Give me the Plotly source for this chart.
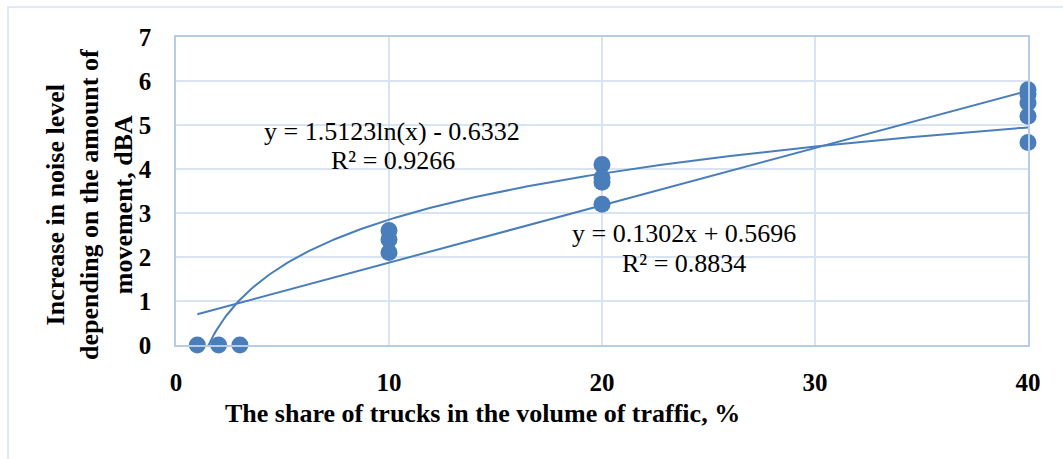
import numpy as np
import plotly.graph_objects as go

# Measured noise increase vs. share of trucks
truck_share = [1, 2, 3, 10, 10, 10, 20, 20, 20, 20, 40, 40, 40, 40, 40]
noise_increase = [0, 0, 0, 2.6, 2.4, 2.1, 4.1, 3.8, 3.7, 3.2, 5.8, 5.7, 5.5, 5.2, 4.6]

# Trendline coefficients
log_a, log_b = 1.5123, -0.6332
lin_k, lin_b = 0.1302, 0.5696

x_ticks = [0, 10, 20, 30, 40]
y_ticks = [0, 1, 2, 3, 4, 5, 6, 7]

blue = "#4a7ebb"
grid = "#d9e4f3"
border = "#b8cce8"
serif = "Liberation Serif, Times New Roman, serif"

fig = go.Figure()

xs = np.linspace(min(truck_share), max(truck_share), 400)
fig.add_trace(go.Scatter(x=xs, y=log_a * np.log(xs) + log_b, mode="lines",
                         line=dict(color=blue, width=2), cliponaxis=True,
                         hoverinfo="skip"))
xl = np.array([min(truck_share), max(truck_share)])
fig.add_trace(go.Scatter(x=xl, y=lin_k * xl + lin_b, mode="lines",
                         line=dict(color=blue, width=2), cliponaxis=True,
                         hoverinfo="skip"))
fig.add_trace(go.Scatter(x=truck_share, y=noise_increase, mode="markers",
                         marker=dict(color=blue, size=17), cliponaxis=False))

axis_common = dict(showgrid=True, gridcolor=grid, gridwidth=1.5, zeroline=False,
                   showline=True, linecolor=border, linewidth=1.5, mirror=True,
                   ticks="", tickfont=dict(family=serif, size=25, color="black",
                                           weight="bold"))
fig.update_xaxes(range=[0, 40], tickvals=x_ticks, ticklabelstandoff=14, **axis_common)
fig.update_yaxes(range=[0, 7], tickvals=y_ticks, ticklabelstandoff=18, **axis_common)

annos = [
    dict(x=392, y=131, text="y = 1.5123ln(x) - 0.6332"),
    dict(x=393, y=160, text="R² = 0.9266"),
    dict(x=684, y=233, text="y = 0.1302x + 0.5696"),
    dict(x=684, y=263, text="R² = 0.8834"),
]
L, R, T, B, W, H = 176, 35, 37, 114, 1063, 459
pw, ph = W - L - R, H - T - B


def px(x):
    return (x - L) / pw


def py(y):
    return (H - B - y) / ph


for a in annos:
    fig.add_annotation(x=px(a["x"]), y=py(a["y"]), xref="paper", yref="paper",
                       xanchor="center", yanchor="middle",
                       text=a["text"], showarrow=False,
                       font=dict(family=serif, size=26, color="black"))

fig.add_annotation(x=px(482), y=py(413), xref="paper", yref="paper",
                   xanchor="center", yanchor="middle",
                   text="<b>The share of trucks in the volume of traffic, %</b>",
                   showarrow=False, font=dict(family=serif, size=26, color="black"))
fig.add_annotation(x=px(89), y=py(205), xref="paper", yref="paper", textangle=-90,
                   xanchor="center", yanchor="middle",
                   text="<b>Increase in noise level<br>depending on the amount of<br>movement, dBA</b>",
                   showarrow=False,
                   font=dict(family=serif, size=26, color="black"))

# Outer chart frame
fig.add_shape(type="rect", xref="paper", yref="paper",
              x0=px(8), x1=px(1070), y0=py(470), y1=py(7),
              line=dict(color="#d6e2f2", width=1.5), layer="below")

fig.update_layout(width=W, height=H, margin=dict(l=L, r=R, t=T, b=B),
                  plot_bgcolor="white", paper_bgcolor="white", showlegend=False)

fig.write_html("out.html")
